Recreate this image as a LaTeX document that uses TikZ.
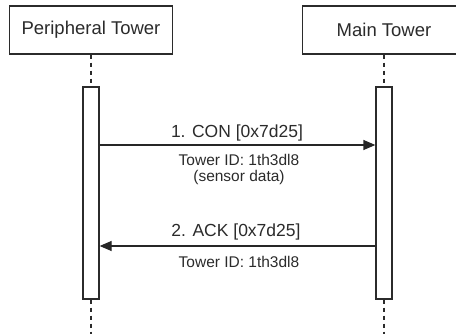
\documentclass[tikz,border=0pt]{standalone}
\usepackage{fontspec}
\setmainfont{Liberation Sans}
\usetikzlibrary{arrows.meta}
\definecolor{ink}{HTML}{2B2B2B}
\begin{document}
\begin{tikzpicture}[x=1pt,y=-1pt,
  actor/.style={draw=ink,line width=1.3pt,fill=white,minimum width=163pt,minimum height=48pt,inner sep=0pt,text=ink,font=\fontsize{18.5}{22}\selectfont},
  bar/.style={draw=ink,line width=1.3pt,fill=white,minimum width=16pt,minimum height=212pt,inner sep=0pt},
  life/.style={draw=ink,line width=1.2pt,dash pattern=on 4pt off 4pt},
  msg/.style={draw=black!85,line width=1.3pt,-{Triangle[length=12pt,width=10pt]}},
  big/.style={text=ink,font=\fontsize{17.5}{21}\selectfont,inner sep=0pt},
  small/.style={text=ink,font=\fontsize{15.5}{15.5}\selectfont,inner sep=0pt,align=center}]
\useasboundingbox (0,0) rectangle (456,334);
\clip (0,0) rectangle (456,334);
\node[actor] (pt) at (91,30) {Peripheral Tower};
\node[actor] (mt) at (384,30) {Main Tower};
\coordinate (pend) at (91,334);
\coordinate (mend) at (384,334);
\path (91,193) node[bar] (pbar) {};
\path (384,193) node[bar] (mbar) {};
\draw[life] (pt.south) -- (pbar.north);
\draw[life] (pbar.south) -- (pend);
\draw[life] (mt.south) -- (mbar.north);
\draw[life] (mbar.south) -- (mend);
\coordinate (y1) at (0,145);
\coordinate (y2) at (0,246);
\draw[msg] (pbar.east |- y1) -- (mbar.west |- y1);
\draw[msg] (mbar.west |- y2) -- (pbar.east |- y2);
\node[big] (l1) at (237,133) {1. CON [0x7d25]};
\node[small] (s1) at (239,169.5) {Tower ID: 1th3dl8\\(sensor data)};
\node[big] (l2) at (236,232) {2. ACK [0x7d25]};
\node[small] (s2) at (239,262) {Tower ID: 1th3dl8};
\end{tikzpicture}
\end{document}
